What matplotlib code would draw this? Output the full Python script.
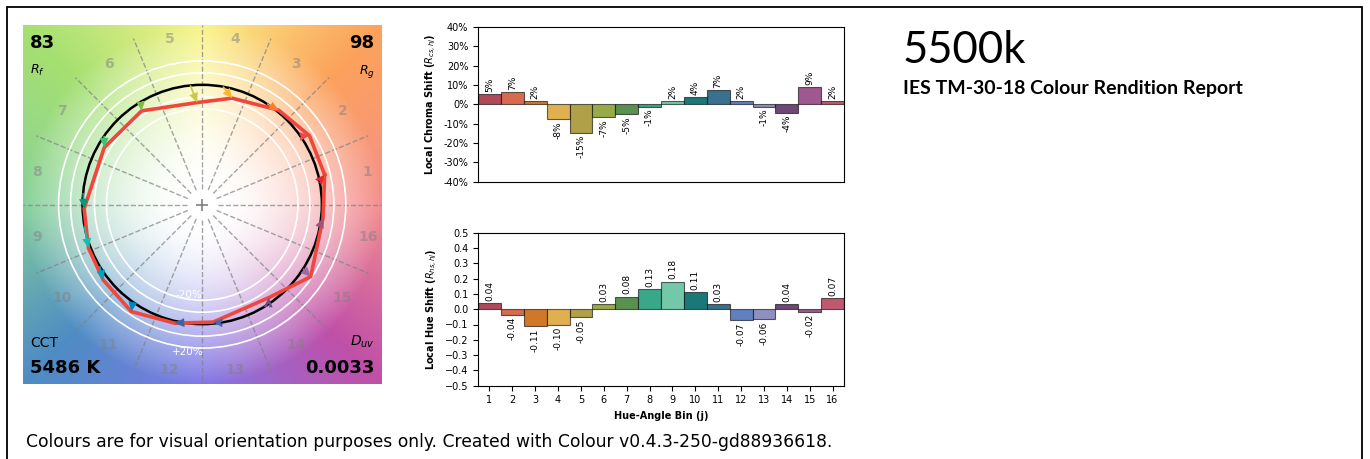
import numpy as np
import matplotlib
matplotlib.use("Agg")
import matplotlib.pyplot as plt
from matplotlib.patches import Rectangle, Circle
from matplotlib.ticker import FuncFormatter

# ---- data ----
bins = np.arange(1, 17)
chroma_shift = [5.3, 6.5, 1.5, -7.7, -14.7, -6.8, -5.3, -1.3, 1.8, 4.0, 7.3, 1.8, -1.3, -4.3, 8.9, 1.6]  # %
chroma_labels = [5, 7, 2, -8, -15, -7, -5, -1, 2, 4, 7, 2, -1, -4, 9, 2]
hue_shift = [0.04, -0.035, -0.11, -0.10, -0.05, 0.033, 0.083, 0.13, 0.18, 0.11, 0.033, -0.07, -0.065, 0.035, -0.018, 0.073]
hue_labels = [0.04, -0.04, -0.11, -0.10, -0.05, 0.03, 0.08, 0.13, 0.18, 0.11, 0.03, -0.07, -0.06, 0.04, -0.02, 0.07]
ref_hue_deg = [11.4, 34.7, 57.2, 80.0, 95.7, 121.0, 145.0, 174.5, 190.6, 211.0, 234.6, 261.0, 279.0, 303.6, 327.4, 349.3]

R_f, R_g = 83, 98
CCT, D_uv = 5486, 0.0033
title = "5500k"
subtitle = "IES TM-30-18 Colour Rendition Report"
footer = "Colours are for visual orientation purposes only. Created with Colour v0.4.3-250-gd88936618."

bar_colors = ['#b04a58', '#d86a50', '#d07828', '#e0b050', '#b0a048', '#98aa48', '#5a9050', '#3aa888',
              '#72c8a8', '#1a7878', '#3a7090', '#6080c0', '#9090c0', '#704878', '#a05890', '#c05870']
arrow_colors = ['#e62828', '#e74b4b', '#fb812e', '#ffb529', '#cbca46', '#7eb94c', '#41c06d', '#009c7c',
                '#16bcb0', '#00a4bf', '#0085c3', '#3b62aa', '#4568ae', '#6a4e85', '#9d69a1', '#a74f81']

W, H = 1370, 459
fig = plt.figure(figsize=(W / 100, H / 100), dpi=100)

# outer frame
fig.patches.append(Rectangle((7 / W, -0.05), (1362 - 7) / W, 1.05 - 7 / H, fill=False,
                             lw=1.3, ec='black', transform=fig.transFigure, figure=fig))

# ---- colour vector graphic ----
ax = fig.add_axes([22.7 / W, (H - 384) / H, 359 / W, 359 / H])
lim = 1.5
n = 400
g = np.linspace(-lim, lim, n)
X, Y = np.meshgrid(g, g)
theta = np.degrees(np.arctan2(Y, X)) % 360
rad = np.hypot(X, Y)
anchor_deg = [0, 45, 90, 135, 180, 225, 270, 315, 360]
anchor_rgb = np.array([matplotlib.colors.to_rgb(c) for c in
                       ['#f48e8e', '#fca25c', '#faf48a', '#a6e072', '#86d09a', '#4e8cc4',
                        '#8078e6', '#c050a8', '#f48e8e']])
img = np.zeros((n, n, 3))
for k in range(3):
    img[..., k] = np.interp(theta, anchor_deg, anchor_rgb[:, k])
s = np.clip((rad - 0.15) / (lim - 0.15), 0, 1) ** 1.6
img = 1 - (1 - img) * s[..., None]
ax.imshow(img, extent=(-lim, lim, -lim, lim), origin='lower', zorder=0)

for a in np.radians(np.arange(0, 360, 22.5)):
    ax.plot([0.13 * np.cos(a), lim * np.cos(a)], [0.13 * np.sin(a), lim * np.sin(a)],
            ls='--', color='grey', alpha=0.7, lw=1, zorder=1)
for r in [0.8, 0.9, 1.1, 1.2]:
    ax.add_patch(Circle((0, 0), r, fill=False, ec='white', lw=1.2, zorder=2))
ax.add_patch(Circle((0, 0), 1.0, fill=False, ec='black', lw=1.8, zorder=3))
ax.plot(0, 0, '+', color='grey', ms=8, mew=1.2, zorder=3)
ax.text(-0.11, -0.755, '-20%', color='white', fontsize=7.5, ha='center', va='center', zorder=3)
ax.text(-0.12, -1.236, '+20%', color='white', fontsize=7.5, ha='center', va='center', zorder=3)

ref_a = np.radians(ref_hue_deg)
test_r = 1 + np.array(chroma_shift) / 100
test_a = ref_a + np.array(hue_shift)
xr, yr = np.cos(ref_a), np.sin(ref_a)
xt, yt = test_r * np.cos(test_a), test_r * np.sin(test_a)
ax.plot(np.append(xt, xt[0]), np.append(yt, yt[0]), color='#f0463c', lw=2.6, zorder=4)
for i in range(16):
    ax.arrow(xr[i], yr[i], xt[i] - xr[i], yt[i] - yr[i], length_includes_head=True,
             width=0.014, head_width=0.075, head_length=0.08, color=arrow_colors[i], lw=0, zorder=5)

for j in bins:
    a = np.radians((j - 0.5) * 22.5)
    ax.text(1.41 * np.cos(a), 1.41 * np.sin(a), str(j), color='grey', alpha=0.5,
            fontsize=10, fontweight='bold', ha='center', va='center', zorder=3)

ax.text(0.02, 0.975, str(R_f), transform=ax.transAxes, fontsize=13, fontweight='bold', va='top')
ax.text(0.02, 0.895, '$R_f$', transform=ax.transAxes, fontsize=9, va='top')
ax.text(0.98, 0.975, str(R_g), transform=ax.transAxes, fontsize=13, fontweight='bold', va='top', ha='right')
ax.text(0.98, 0.895, '$R_g$', transform=ax.transAxes, fontsize=9, va='top', ha='right')
ax.text(0.02, 0.095, 'CCT', transform=ax.transAxes, fontsize=10, va='bottom')
ax.text(0.02, 0.02, '%d K' % CCT, transform=ax.transAxes, fontsize=13, fontweight='bold', va='bottom')
ax.text(0.98, 0.095, '$D_{uv}$', transform=ax.transAxes, fontsize=10, va='bottom', ha='right')
ax.text(0.98, 0.02, '%.4f' % D_uv, transform=ax.transAxes, fontsize=13, fontweight='bold', va='bottom', ha='right')
ax.set_xlim(-lim, lim)
ax.set_ylim(-lim, lim)
ax.axis('off')

# ---- local chroma shift ----
ax1 = fig.add_axes([478 / W, (H - 181.5) / H, 366 / W, 154.5 / H])
ax1.bar(bins, chroma_shift, width=1, color=bar_colors, edgecolor=(0, 0, 0, 0.6), lw=0.8)
for x, v, lab in zip(bins, chroma_shift, chroma_labels):
    if v >= 0:
        ax1.text(x, v + 1, '%d%%' % lab, rotation=90, ha='center', va='bottom', fontsize=6.5)
    else:
        ax1.text(x, v - 1, '%d%%' % lab, rotation=90, ha='center', va='top', fontsize=6.5)
ax1.set_xlim(0.5, 16.5)
ax1.set_ylim(-40, 40)
ax1.set_yticks(np.arange(-40, 41, 10))
ax1.yaxis.set_major_formatter(FuncFormatter(lambda v, p: '%d%%' % v))
ax1.set_xticks([])
ax1.tick_params(labelsize=7)
ax1.set_ylabel('Local Chroma Shift ($R_{cs,hj}$)', fontsize=7, fontweight='bold')

# ---- local hue shift ----
ax2 = fig.add_axes([478 / W, (H - 385.7) / H, 366 / W, 153 / H])
ax2.bar(bins, hue_shift, width=1, color=bar_colors, edgecolor=(0, 0, 0, 0.6), lw=0.8)
for x, v, lab in zip(bins, hue_shift, hue_labels):
    if v >= 0:
        ax2.text(x, v + 0.015, '%.2f' % lab, rotation=90, ha='center', va='bottom', fontsize=6.5)
    else:
        ax2.text(x, v - 0.015, '%.2f' % lab, rotation=90, ha='center', va='top', fontsize=6.5)
ax2.set_xlim(0.5, 16.5)
ax2.set_ylim(-0.5, 0.5)
ax2.set_yticks(np.round(np.arange(-0.5, 0.51, 0.1), 1))
ax2.set_xticks(bins)
ax2.tick_params(labelsize=7)
ax2.set_xlabel('Hue-Angle Bin (j)', fontsize=7, fontweight='bold')
ax2.set_ylabel('Local Hue Shift ($R_{hs,hj}$)', fontsize=7, fontweight='bold')

# ---- header and footer ----
fig.text(903 / W, 1 - 63 / H, title, fontsize=31.5, family='Lato', fontweight='normal', va='baseline')
fig.text(903 / W, 1 - 94 / H, subtitle, fontsize=14, family='Lato', fontweight='bold', va='baseline')
fig.text(26 / W, 1 - 447 / H, footer, fontsize=12.35, family='DejaVu Sans', va='baseline')

fig.savefig('out.png', dpi=100)
